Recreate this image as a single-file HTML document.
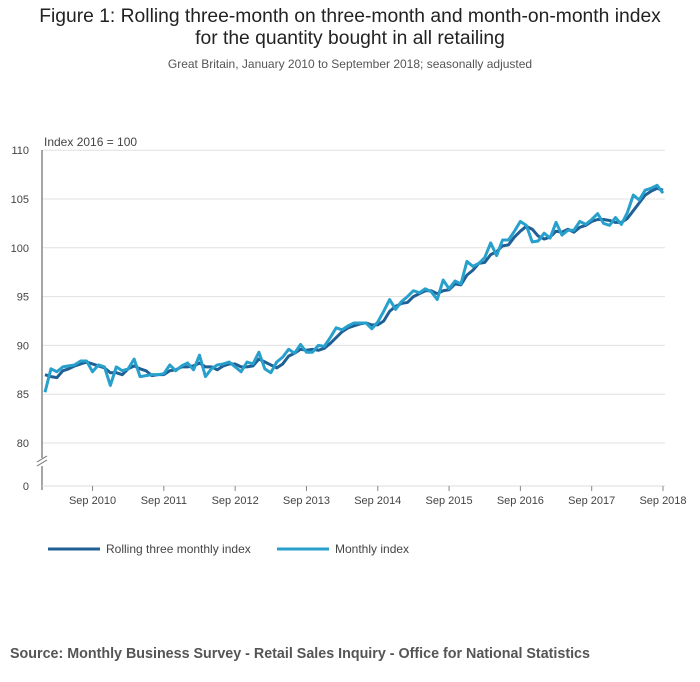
<!DOCTYPE html>
<html><head><meta charset="utf-8"><style>
body{margin:0;background:#fff;font-family:"Liberation Sans",sans-serif;}
#wrap{position:relative;width:700px;height:682px;overflow:hidden;}
.t{position:absolute;white-space:nowrap;}
</style></head><body>
<div id="wrap">
<div class="t" style="left:0;width:700px;text-align:center;top:6px;font-size:19.3px;line-height:22px;color:#222;">Figure 1: Rolling three-month on three-month and month-on-month index<br>for the quantity bought in all retailing</div>
<div class="t" style="left:0;width:700px;text-align:center;top:57px;font-size:12px;color:#555;">Great Britain, January 2010 to September 2018; seasonally adjusted</div>
<svg id="chart" width="700" height="682" style="position:absolute;left:0;top:0"></svg>
<div class="t" style="left:10px;top:646px;font-size:14.3px;font-weight:bold;color:#555;">Source: Monthly Business Survey - Retail Sales Inquiry - Office for National Statistics</div>
</div>
<script>
const monthly=[85.2,87.6,87.3,87.8,87.9,88.0,88.4,88.4,87.3,88.0,87.8,85.9,
87.8,87.4,87.6,88.6,86.8,86.9,87.0,87.0,87.1,88.0,87.4,87.9,
88.2,87.5,89.0,86.8,87.6,88.0,88.1,88.3,87.8,87.3,88.3,88.1,
89.3,87.6,87.2,88.3,88.8,89.6,89.2,90.1,89.3,89.3,90.0,89.9,
90.8,91.8,91.6,92.0,92.3,92.3,92.3,91.7,92.4,93.5,94.7,93.7,
94.5,95.0,95.6,95.4,95.8,95.5,94.7,96.7,95.8,96.6,96.3,98.6,
98.1,98.4,99.0,100.5,99.2,100.8,100.8,101.7,102.7,102.3,100.6,100.7,
101.5,101.0,102.6,101.3,101.8,101.8,102.7,102.4,102.9,103.5,102.5,102.3,
103.1,102.4,103.6,105.4,104.9,105.9,106.1,106.4,105.6];
const rolling=[87.0,86.8,86.7,87.4,87.6,87.9,88.1,88.3,88.1,87.9,87.7,87.2,
87.2,87.0,87.6,87.9,87.6,87.4,86.9,87.0,87.0,87.4,87.5,87.8,
87.8,87.9,88.2,87.8,87.8,87.5,87.9,88.1,88.1,87.8,87.8,87.9,
88.6,88.3,88.0,87.7,88.1,88.9,89.2,89.6,89.5,89.6,89.5,89.7,
90.2,90.8,91.4,91.8,92.0,92.2,92.3,92.1,92.1,92.5,93.5,94.0,
94.3,94.4,95.0,95.3,95.6,95.6,95.3,95.6,95.7,96.3,96.2,97.2,
97.7,98.4,98.5,99.3,99.6,100.2,100.3,101.1,101.7,102.2,101.9,101.2,
100.9,101.1,101.7,101.6,101.9,101.6,102.1,102.3,102.7,102.9,102.9,102.8,
102.6,102.6,103.0,103.8,104.6,105.4,105.8,106.1,105.9];
const yTicks=[80,85,90,95,100,105,110];
const xTickLabels=["Sep 2010","Sep 2011","Sep 2012","Sep 2013","Sep 2014","Sep 2015","Sep 2016","Sep 2017","Sep 2018"];
const xTickIdx=[8,20,32,44,56,68,80,92,104];

const NS="http://www.w3.org/2000/svg";
const svg=document.getElementById('chart');
const x=i=>45+i*(663-45)/104;
const y=v=>443-(v-80)*9.76;
function mk(tag,attrs,parent){const e=document.createElementNS(NS,tag);for(const k in attrs)e.setAttribute(k,attrs[k]);(parent||svg).appendChild(e);return e;}
yTicks.forEach(v=>{
  const g=mk('line',{x1:42,x2:665,y1:y(v),y2:y(v),stroke:'#e0e0e0','stroke-width':1});
  
  
  const t=mk('text',{x:29,y:y(v)+4,'text-anchor':'end','font-size':11,fill:'#444'});
  t.textContent=v;
  
  
});
const z=mk('text',{x:29,y:490,'text-anchor':'end','font-size':11,fill:'#444'});z.textContent='0';


const ax=mk('line',{x1:42,x2:42,y1:150,y2:490,stroke:'#888','stroke-width':1.5});


const bx=mk('line',{x1:42,x2:665,y1:486,y2:486,stroke:'#ddd','stroke-width':1});


const br=mk('rect',{x:36,y:458,width:12,height:8,fill:'#fff'});


mk('line',{x1:37,x2:47,y1:466,y2:460,stroke:'#888','stroke-width':1.2});
mk('line',{x1:37,x2:47,y1:462,y2:456,stroke:'#888','stroke-width':1.2});
xTickIdx.forEach((i,k)=>{
  mk('line',{x1:x(i),x2:x(i),y1:486,y2:491,stroke:'#888'});
  const t=mk('text',{x:x(i),y:504,'text-anchor':'middle','font-size':11,fill:'#444'});
  t.textContent=xTickLabels[k];
  
  
});
const yl=mk('text',{x:44,y:146,'font-size':12,fill:'#444'});yl.textContent='Index 2016 = 100';


function line(arr,col,name){
  const p=mk('polyline',{points:arr.map((v,i)=>x(i)+','+y(v)).join(' '),fill:'none',stroke:col,'stroke-width':3,'stroke-linejoin':'round'});
  
  
}
line(rolling,'#206095','rolling-three-monthly-line');
line(monthly,'#27a0cc','monthly-index-line');
function leg(x0,col,txt,name){
  const l=mk('line',{x1:x0,x2:x0+52,y1:549,y2:549,stroke:col,'stroke-width':3});
  
  
  const t=mk('text',{x:x0+58,y:553,'font-size':12,fill:'#444'});t.textContent=txt;
  
  
}
leg(48,'#206095','Rolling three monthly index','legend-rolling');
leg(277,'#27a0cc','Monthly index','legend-monthly');
</script>
</body></html>
